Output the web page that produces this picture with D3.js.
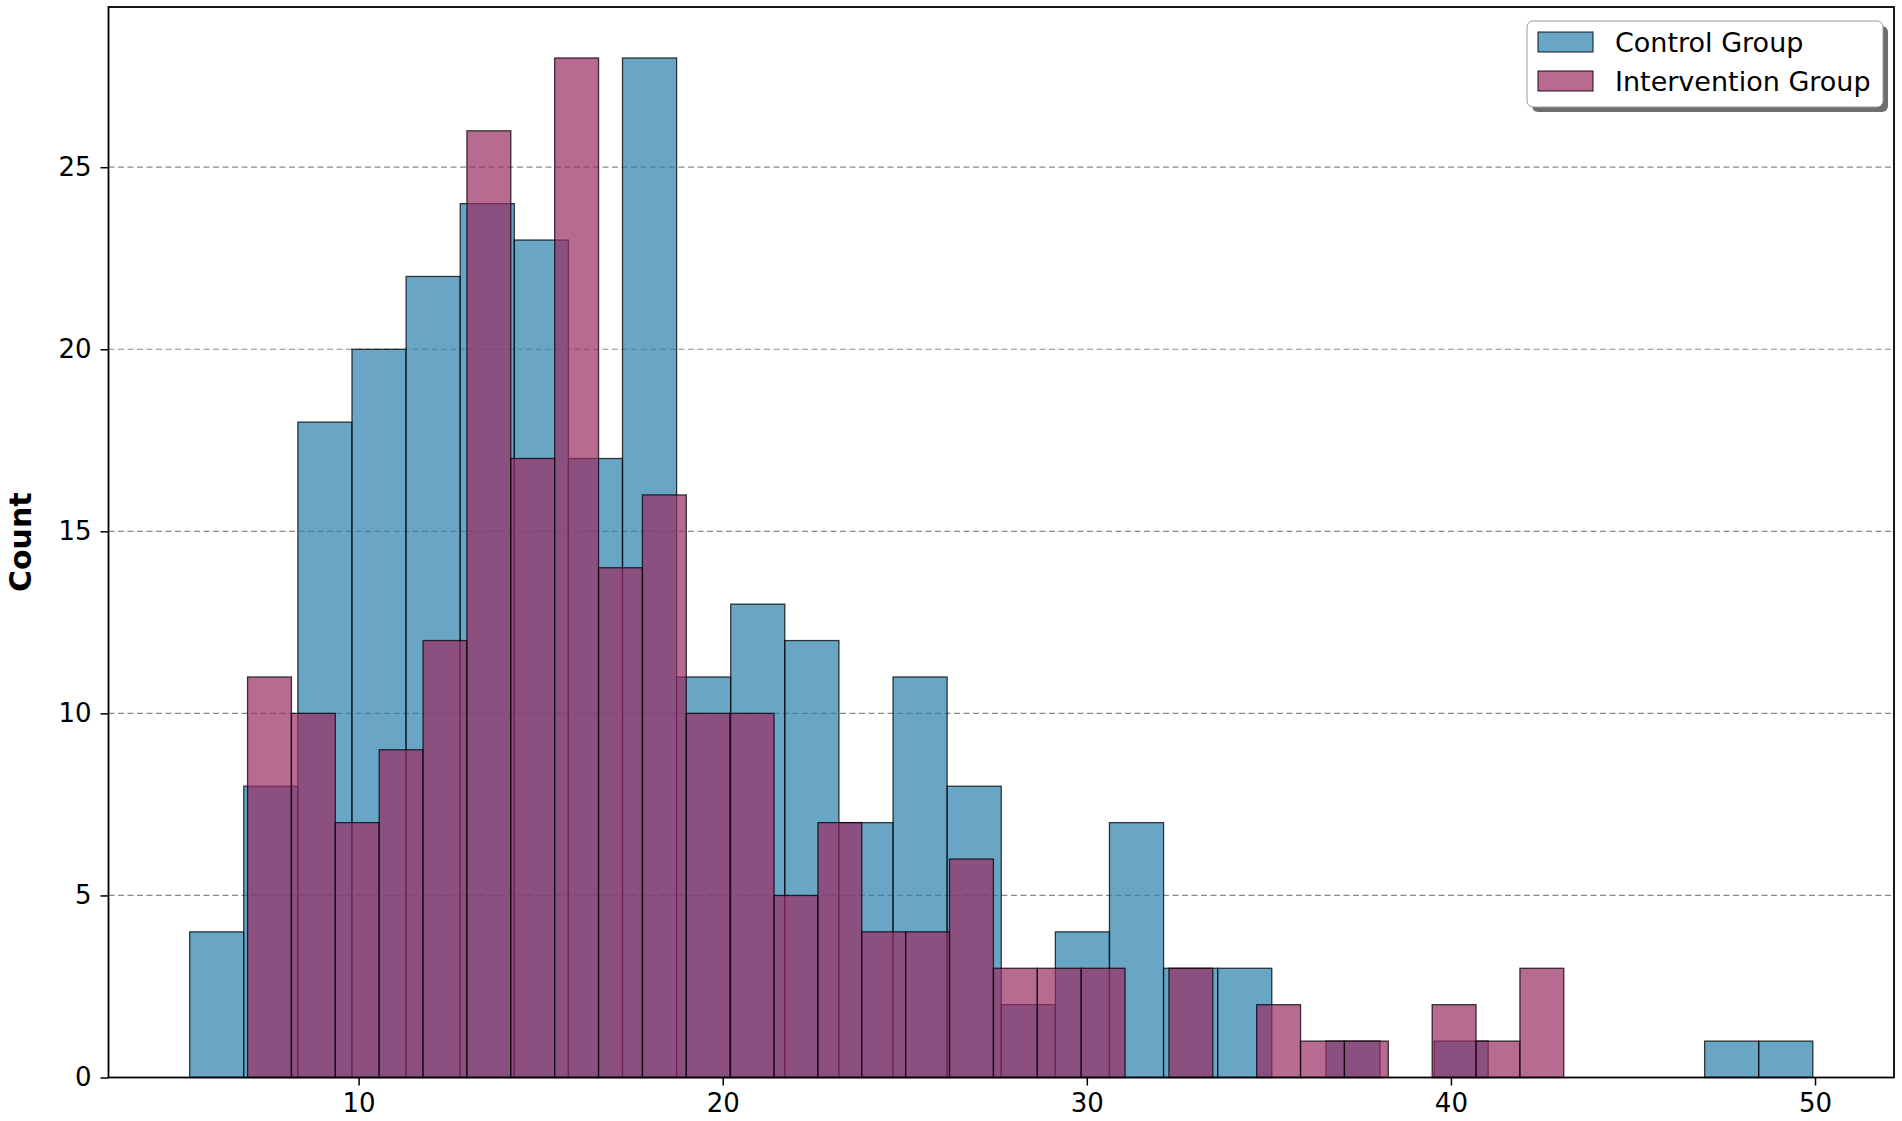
<!DOCTYPE html>
<meta charset="utf-8">
<style>
body { margin: 0; background: #fff; }
text { font-family: "DejaVu Sans", sans-serif; fill: #000; }
.axis path, .axis line { stroke: #000; }
.grid line { stroke: #8a8a8a; stroke-dasharray: 6,3.5; stroke-width: 1.2; }
</style>
<body>
<script src="https://d3js.org/d3.v7.min.js"></script>
<script>

var width = 1902,
    height = 1121,
    margin = {top: 7, right: 8, bottom: 43.5, left: 108.5};

// histogram counts, 30 bins each
var controlCounts = [4, 8, 18, 20, 22, 24, 23, 17, 28, 11, 13, 12, 7, 11, 8,
                     2, 4, 7, 3, 3, 0, 1, 0, 1, 0, 0, 0, 0, 1, 1];
var interventionCounts = [11, 10, 7, 9, 12, 26, 17, 28, 14, 16, 10, 10, 5, 7, 4,
                          4, 6, 3, 3, 3, 0, 3, 0, 2, 1, 1, 0, 2, 1, 3];
// data range of each group (first bin edge, last bin edge)
var controlRange = [5.36, 49.94];
var interventionRange = [6.95, 43.1];

var seriesNames = ["Control Group", "Intervention Group"];
var seriesColors = ["#2a7fab", "#9a2c62"];
var xTicks = [10, 20, 30, 40, 50];
var yTicks = [0, 5, 10, 15, 20, 25];
var yLabel = "Count";

function toBins(range, counts) {
  var w = (range[1] - range[0]) / counts.length;
  return counts.map(function(c, i) {
    return {x0: range[0] + i * w, x1: range[0] + (i + 1) * w, count: c};
  });
}

var series = [toBins(controlRange, controlCounts), toBins(interventionRange, interventionCounts)];

var lo = Math.min(controlRange[0], interventionRange[0]),
    hi = Math.max(controlRange[1], interventionRange[1]),
    pad = (hi - lo) * 0.05;
var ymax = d3.max(controlCounts.concat(interventionCounts)) * 1.05;

var x = d3.scaleLinear().domain([lo - pad, hi + pad]).range([margin.left, width - margin.right]);
var y = d3.scaleLinear().domain([0, ymax]).range([height - margin.bottom, margin.top]);

var svg = d3.select("body").append("svg")
    .attr("width", width)
    .attr("height", height);

// horizontal dashed grid
svg.append("g")
    .attr("class", "grid")
  .selectAll("line")
    .data(yTicks.filter(function(d) { return d > 0; }))
  .enter().append("line")
    .attr("x1", margin.left)
    .attr("x2", width - margin.right)
    .attr("y1", function(d) { return y(d); })
    .attr("y2", function(d) { return y(d); });

// bars, control first then intervention on top
series.forEach(function(bins, k) {
  svg.append("g")
    .selectAll("rect")
      .data(bins.filter(function(d) { return d.count > 0; }))
    .enter().append("rect")
      .attr("x", function(d) { return x(d.x0); })
      .attr("width", function(d) { return x(d.x1) - x(d.x0); })
      .attr("y", function(d) { return y(d.count); })
      .attr("height", function(d) { return y(0) - y(d.count); })
      .attr("fill", seriesColors[k])
      .attr("fill-opacity", 0.7)
      .attr("stroke", "#000")
      .attr("stroke-opacity", 0.75)
      .attr("stroke-width", 1.3);
});

// axes
svg.append("g")
    .attr("class", "axis")
    .attr("transform", "translate(0," + (height - margin.bottom) + ")")
    .call(d3.axisBottom(x).tickValues(xTicks).tickSize(8).tickPadding(8));
svg.append("g")
    .attr("class", "axis")
    .attr("transform", "translate(" + margin.left + ",0)")
    .call(d3.axisLeft(y).tickValues(yTicks).tickSize(8).tickPadding(9));

svg.selectAll(".axis .domain").remove();
svg.selectAll(".axis line").attr("stroke-width", 1.5);
svg.selectAll(".axis text")
    .style("font-family", "DejaVu Sans, sans-serif")
    .style("font-size", "26px");

// frame
svg.append("rect")
    .attr("x", margin.left)
    .attr("y", margin.top)
    .attr("width", width - margin.left - margin.right)
    .attr("height", height - margin.top - margin.bottom)
    .attr("fill", "none")
    .attr("stroke", "#000")
    .attr("stroke-width", 1.8);

// y label
svg.append("text")
    .attr("transform", "translate(31," + ((margin.top + height - margin.bottom) / 2) + ")rotate(-90)")
    .attr("text-anchor", "middle")
    .style("font-size", "30px")
    .style("font-weight", "bold")
    .text(yLabel);

// legend
var lg = svg.append("g").attr("transform", "translate(1527,21)");
lg.append("rect")
    .attr("x", 5).attr("y", 5)
    .attr("width", 356).attr("height", 86)
    .attr("rx", 6)
    .attr("fill", "#555")
    .attr("fill-opacity", 0.85);
lg.append("rect")
    .attr("width", 356).attr("height", 86)
    .attr("rx", 6)
    .attr("fill", "#fff")
    .attr("stroke", "#999")
    .attr("stroke-width", 1);

var items = lg.selectAll(".item")
    .data(seriesNames)
  .enter().append("g")
    .attr("class", "item")
    .attr("transform", function(d, i) { return "translate(0," + (i * 39) + ")"; });
items.append("rect")
    .attr("x", 11).attr("y", 11)
    .attr("width", 55).attr("height", 20)
    .attr("fill", function(d, i) { return seriesColors[i]; })
    .attr("fill-opacity", 0.7)
    .attr("stroke", "#000")
    .attr("stroke-opacity", 0.75)
    .attr("stroke-width", 1.2);
items.append("text")
    .attr("x", 88)
    .attr("y", 31)
    .style("font-size", "27px")
    .text(function(d) { return d; });

</script>
